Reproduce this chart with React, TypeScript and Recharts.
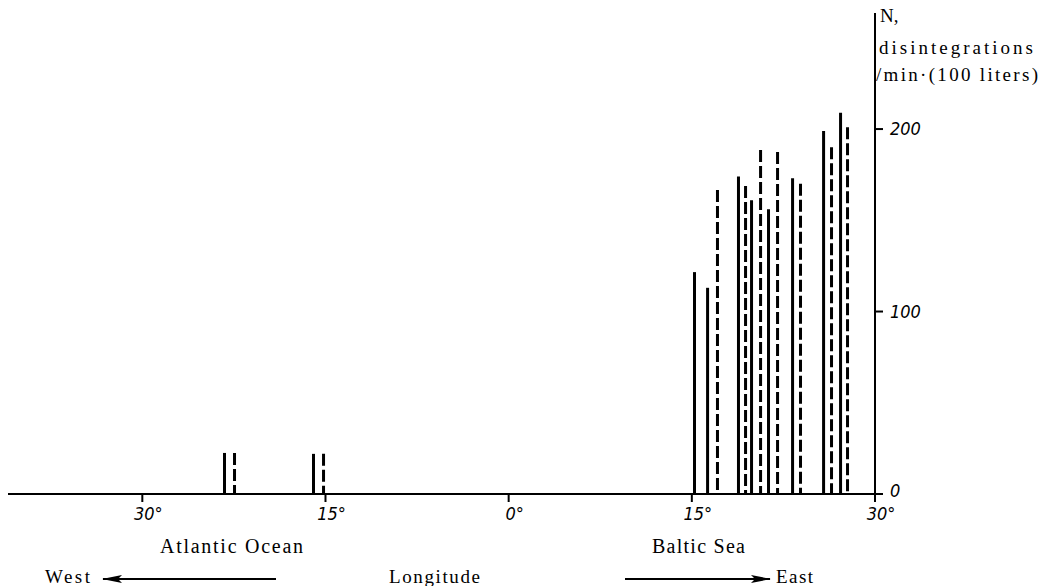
import React from "react";
import { ComposedChart, Bar, XAxis, YAxis } from "recharts";

// Longitude (negative = West, positive = East) and activity N, disintegrations/min·(100 liters)
const solidLon = [-23.23, -15.94, 15.26, 16.33, 18.86, 19.93, 21.32, 23.29, 25.83, 27.22];
const solidVal = [22.5, 22, 121.6, 113, 174, 161, 156, 173, 199, 209];
const dashedLon = [-22.41, -15.12, 17.14, 19.44, 20.67, 22.06, 23.94, 26.48, 27.79];
const dashedVal = [22.5, 22, 166.6, 168.8, 188.5, 187.4, 170, 190, 201];

const xTicks = [-30, -15, 0, 15, 30];
const yTicks = [0, 100, 200];

const rows = [
  ...solidLon.map((lon, i) => ({ lon, solid: solidVal[i] })),
  ...dashedLon.map((lon, i) => ({ lon, dashed: dashedVal[i] })),
].sort((a, b) => a.lon - b.lon);

const tickFont = "'DejaVu Sans Condensed', 'Liberation Sans Narrow', sans-serif";
const serif = "'Liberation Serif', 'DejaVu Serif', serif";

const makeShape = (dashed: boolean) => (props: any) => {
  const { x, y, width, height } = props;
  if (!height || height <= 0) return null;
  const cx = x + width / 2;
  return (
    <line
      x1={cx}
      x2={cx}
      y1={y}
      y2={y + height}
      stroke="#000"
      strokeWidth={3}
      strokeDasharray={dashed ? "12 4" : undefined}
    />
  );
};

const XTick = (props: any) => {
  const { x, y, payload } = props;
  return (
    <text
      x={x + 6}
      y={y + 16}
      textAnchor="middle"
      fontFamily={tickFont}
      fontStyle="italic"
      fontSize={18}
      fill="#000"
    >
      {Math.abs(payload.value) + "°"}
    </text>
  );
};

const YTick = (props: any) => {
  const { x, y, payload } = props;
  return (
    <text
      x={x + 3}
      y={payload.value === 0 ? y + 3 : y + 6}
      textAnchor="start"
      fontFamily={tickFont}
      fontStyle="italic"
      fontSize={18}
      fill="#000"
    >
      {payload.value}
    </text>
  );
};

export default function App() {
  return (
    <div style={{ position: "absolute", left: 0, top: 0, width: 1040, height: 586, background: "#fff" }}>
      <ComposedChart
        width={1040}
        height={586}
        data={rows}
        margin={{ top: 13, right: 0, left: 8, bottom: 62 }}
      >
        <XAxis
          dataKey="lon"
          type="number"
          domain={[-41, 30]}
          ticks={xTicks}
          allowDataOverflow
          height={30}
          tickSize={8}
          tickMargin={2}
          axisLine={{ stroke: "#000", strokeWidth: 2 }}
          tickLine={{ stroke: "#000", strokeWidth: 2 }}
          tick={<XTick />}
        />
        <YAxis
          orientation="right"
          type="number"
          domain={[0, 263.6]}
          ticks={yTicks}
          allowDataOverflow
          width={165}
          tickSize={8}
          tickMargin={4}
          axisLine={{ stroke: "#000", strokeWidth: 2 }}
          tickLine={{ stroke: "#000", strokeWidth: 2 }}
          tick={<YTick />}
        />
        <Bar dataKey="solid" stackId="s" barSize={3} isAnimationActive={false} shape={makeShape(false)} />
        <Bar dataKey="dashed" stackId="s" barSize={3} isAnimationActive={false} shape={makeShape(true)} />
      </ComposedChart>
      <svg
        width={1040}
        height={586}
        style={{ position: "absolute", left: 0, top: 0, pointerEvents: "none" }}
      >
        <defs>
          <marker id="ah" viewBox="0 0 20 8" refX="19" refY="4" markerWidth="20" markerHeight="8" markerUnits="userSpaceOnUse" orient="auto">
            <path d="M0,0 L20,4 L0,8 L4,4 Z" fill="#000" />
          </marker>
        </defs>
        <text x={880} y={22} fontFamily={serif} fontSize={19} fill="#000">N,</text>
        <text x={879} y={54} fontFamily={serif} fontSize={19} fill="#000" textLength={154} lengthAdjust="spacing">disintegrations</text>
        <text x={876} y={81} fontFamily={serif} fontSize={19} fill="#000" textLength={162} lengthAdjust="spacing">/min·(100 liters)</text>
        <text x={160} y={553} fontFamily={serif} fontSize={20} fill="#000" textLength={143} lengthAdjust="spacing">Atlantic Ocean</text>
        <text x={652} y={553} fontFamily={serif} fontSize={20} fill="#000" textLength={93} lengthAdjust="spacing">Baltic Sea</text>
        <text x={45} y={583} fontFamily={serif} fontSize={19} fill="#000" textLength={45} lengthAdjust="spacing">West</text>
        <text x={389} y={583} fontFamily={serif} fontSize={19} fill="#000" textLength={91} lengthAdjust="spacing">Longitude</text>
        <text x={776} y={583} fontFamily={serif} fontSize={19} fill="#000" textLength={37} lengthAdjust="spacing">East</text>
        <line x1={276} y1={579} x2={103} y2={579} stroke="#000" strokeWidth={2} markerEnd="url(#ah)" />
        <line x1={625} y1={579} x2={770} y2={579} stroke="#000" strokeWidth={2} markerEnd="url(#ah)" />
      </svg>
    </div>
  );
}
